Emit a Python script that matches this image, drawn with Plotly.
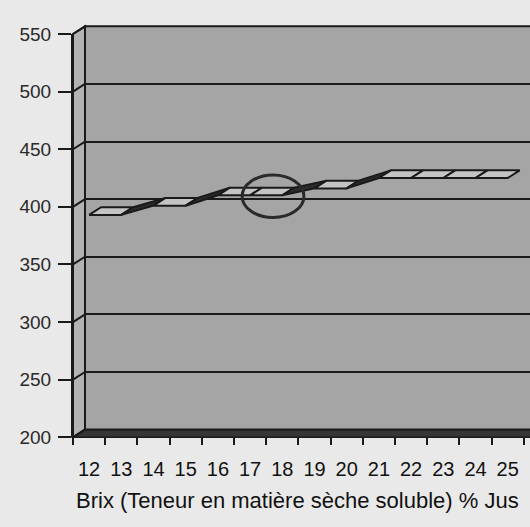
import plotly.graph_objects as go

# ---- data ----
brix = [12, 13, 14, 15, 16, 17, 18, 19, 20, 21, 22, 23, 24, 25]
values = [393, 393, 401, 401, 410, 410, 410, 416, 416, 425, 425, 425, 425, 425]
y_ticks = [200, 250, 300, 350, 400, 450, 500, 550]
x_title = "Brix (Teneur en matière sèche soluble) % Jus"

# ---- geometry (pixels) ----
W, H = 530, 527
PX_PER_CAT = 32.2
PX_PER_UNIT = 1.2
FRONT_LEFT, FRONT_BOTTOM, FRONT_TOP = 73, 445, 25
DEPTH_X, DEPTH_Y = 12, 8
BACK_LEFT = FRONT_LEFT + DEPTH_X
BACK_BOTTOM, BACK_TOP = FRONT_BOTTOM - DEPTH_Y, FRONT_TOP - DEPTH_Y
X0 = brix[0] - 0.5
DXU = DEPTH_X / PX_PER_CAT
DYU = DEPTH_Y / PX_PER_UNIT

WALL = "#a5a5a5"
SIDE = "#b3b3b3"
FLOOR = "#353535"
INK = "#1a1a1a"
PAPER = "#e9e9e9"

fig = go.Figure()

# ribbon (3D line) drawn on the back-wall axes
for i in range(len(brix) - 1):
    xa, xb = brix[i], brix[i + 1]
    ya, yb = values[i], values[i + 1]
    flat = abs(yb - ya) < 1e-9
    xs = [xa - DXU, xb - DXU, xb, xa, xa - DXU]
    ys = [ya - DYU, yb - DYU, yb, ya, ya - DYU]
    fig.add_trace(go.Scatter(
        x=xs, y=ys, xaxis="x2", yaxis="y2", mode="lines",
        fill="toself", fillcolor="#c4c4c4" if flat else "#2b2b2b",
        line=dict(color=INK, width=2), showlegend=False, hoverinfo="skip"))

# invisible trace to activate front axes
fig.add_trace(go.Scatter(x=[brix[0]], y=[y_ticks[0]], mode="markers",
                         marker=dict(opacity=0), showlegend=False, hoverinfo="skip"))

shapes = []
def px(x):
    return x / W
def py(y):
    return (H - y) / H

# left side wall
shapes.append(dict(type="path", xref="paper", yref="paper", layer="below",
                   path=f"M {px(FRONT_LEFT)},{py(FRONT_BOTTOM)} L {px(BACK_LEFT)},{py(BACK_BOTTOM)} "
                        f"L {px(BACK_LEFT)},{py(BACK_TOP)} L {px(FRONT_LEFT)},{py(FRONT_TOP)} Z",
                   fillcolor=SIDE, line=dict(color=INK, width=2)))
# floor
shapes.append(dict(type="path", xref="paper", yref="paper", layer="below",
                   path=f"M {px(FRONT_LEFT)},{py(FRONT_BOTTOM)} L {px(W + 5)},{py(FRONT_BOTTOM)} "
                        f"L {px(W + 5)},{py(BACK_BOTTOM)} L {px(BACK_LEFT)},{py(BACK_BOTTOM)} Z",
                   fillcolor=FLOOR, line=dict(color=INK, width=1.5)))
# back wall
shapes.append(dict(type="rect", xref="x2 domain", yref="y2 domain", layer="below",
                   x0=0, x1=1.02, y0=0, y1=1, fillcolor=WALL,
                   line=dict(color=INK, width=2)))
# side-wall grid diagonals
for v in y_ticks:
    shapes.append(dict(type="line", xref="paper", yref="paper", layer="below",
                       x0=px(FRONT_LEFT), y0=py(FRONT_BOTTOM - (v - y_ticks[0]) * PX_PER_UNIT),
                       x1=px(BACK_LEFT), y1=py(BACK_BOTTOM - (v - y_ticks[0]) * PX_PER_UNIT),
                       line=dict(color=INK, width=2)))
# hand-drawn highlight ellipse
shapes.append(dict(type="circle", xref="x2", yref="y2", layer="above",
                   x0=16.38, x1=18.3, y0=384, y1=421,
                   line=dict(color="#2a2a2a", width=3)))

fig.update_layout(
    width=W, height=H,
    margin=dict(l=0, r=0, t=0, b=0),
    paper_bgcolor=PAPER, plot_bgcolor="rgba(0,0,0,0)",
    showlegend=False,
    shapes=shapes,
    xaxis=dict(domain=[FRONT_LEFT / W, 1], range=[X0, X0 + (W - FRONT_LEFT) / PX_PER_CAT],
               tickmode="array", tickvals=brix, ticktext=[str(b) for b in brix],
               ticks="outside", ticklen=14, tickcolor="rgba(0,0,0,0)",
               tickfont=dict(family="Liberation Sans, Arial, sans-serif", size=20, color="#111111"),
               minor=dict(tickvals=[b - 0.5 for b in brix] + [brix[-1] + 0.5], ticks="outside",
                          ticklen=7, tickwidth=2, tickcolor=INK),
               showgrid=False, zeroline=False, showline=False, anchor="y", fixedrange=True),
    yaxis=dict(domain=[py(FRONT_BOTTOM), py(FRONT_TOP)], range=[y_ticks[0], y_ticks[-1]],
               tickmode="array", tickvals=y_ticks, ticks="outside", ticklen=13, tickwidth=2,
               tickcolor=INK, ticklabelstandoff=3,
               tickfont=dict(family="Liberation Sans, Arial, sans-serif", size=19, color="#2a2a2a"),
               showgrid=False, zeroline=False, showline=True, linecolor=INK, linewidth=2,
               anchor="x", fixedrange=True),
    xaxis2=dict(domain=[BACK_LEFT / W, 1], range=[X0, X0 + (W - BACK_LEFT) / PX_PER_CAT],
                showgrid=False, zeroline=False, showticklabels=False, ticks="",
                anchor="y2", fixedrange=True),
    yaxis2=dict(domain=[py(BACK_BOTTOM), py(BACK_TOP)], range=[y_ticks[0], y_ticks[-1]],
                tickmode="array", tickvals=y_ticks, showgrid=True, gridcolor=INK, gridwidth=2,
                zeroline=False, showticklabels=False, ticks="", anchor="x2", fixedrange=True),
    annotations=[dict(text=x_title, xref="paper", yref="paper", x=297 / W, y=py(511),
                      xanchor="center", yanchor="middle", showarrow=False,
                      font=dict(family="Liberation Sans, Arial, sans-serif", size=22, color="#111111"))],
)

fig.write_html("out.html")
